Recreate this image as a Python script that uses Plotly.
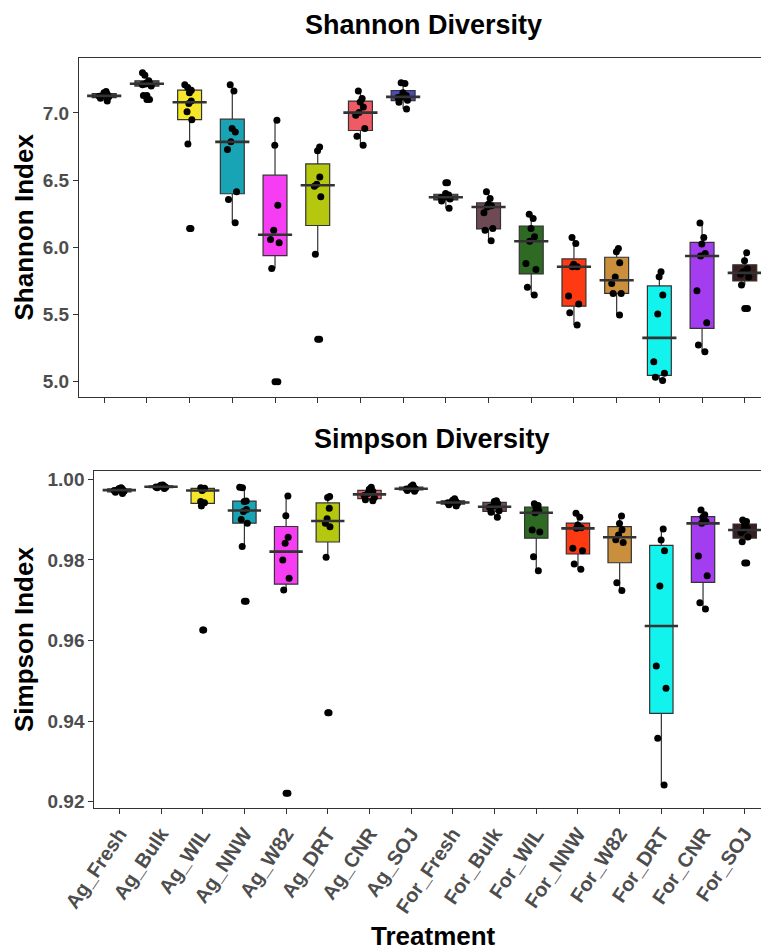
import numpy as np
import plotly.graph_objects as go

# ---------------- data ----------------
treatments = ["Ag_Fresh", "Ag_Bulk", "Ag_WIL", "Ag_NNW", "Ag_W82", "Ag_DRT", "Ag_CNR", "Ag_SOJ",
              "For_Fresh", "For_Bulk", "For_WIL", "For_NNW", "For_W82", "For_DRT", "For_CNR", "For_SOJ"]

box_colors = ["#4D4D4D", "#555555", "#F5E62A", "#18A4B4", "#F73DF3", "#B5C70E", "#F05A64", "#4B4BB0",
              "#4D4D4D", "#6E4A55", "#2F6A25", "#FF3A12", "#C98F3D", "#13F3EE", "#A43CF0", "#3A1F1F"]

shannon = [
    [7.09, 7.11, 7.12, 7.125, 7.13, 7.14, 7.15, 7.16],                       # Ag_Fresh
    [7.10, 7.13, 7.20, 7.21, 7.215, 7.22, 7.225, 7.24, 7.28, 7.30],          # Ag_Bulk
    [6.14, 6.77, 6.95, 7.01, 7.07, 7.09, 7.15, 7.17, 7.19, 7.21],            # Ag_WIL
    [6.183, 6.356, 6.413, 6.728, 6.785, 6.859, 6.884, 7.164, 7.21],          # Ag_NNW
    [5.0, 5.843, 6.034, 6.059, 6.128, 6.314, 6.76, 6.946],                   # Ag_W82
    [5.315, 5.949, 6.376, 6.455, 6.47, 6.524, 6.718, 6.747],                 # Ag_DRT
    [6.76, 6.827, 6.884, 6.983, 7.003, 7.045, 7.082, 7.107, 7.164],          # Ag_CNR
    [7.03, 7.08, 7.095, 7.115, 7.12, 7.13, 7.15, 7.22, 7.225],               # Ag_SOJ
    [6.29, 6.345, 6.36, 6.37, 6.375, 6.39, 6.40, 6.48],                      # For_Fresh
    [6.049, 6.128, 6.14, 6.257, 6.30, 6.31, 6.32, 6.363, 6.413],             # For_Bulk
    [5.645, 5.702, 5.835, 5.88, 6.045, 6.078, 6.14, 6.215, 6.247],           # For_WIL
    [5.422, 5.513, 5.578, 5.637, 5.855, 5.855, 5.875, 6.029, 6.073],         # For_NNW
    [5.496, 5.657, 5.657, 5.731, 5.78, 5.885, 5.967, 5.992],                 # For_W82
    [5.008, 5.033, 5.062, 5.149, 5.503, 5.645, 5.781, 5.818],                # For_DRT
    [5.223, 5.273, 5.439, 5.677, 5.935, 5.954, 6.024, 6.073, 6.182],         # For_CNR
    [5.545, 5.72, 5.78, 5.80, 5.82, 5.84, 5.90, 5.96],                       # For_SOJ
]

simpson = [
    [0.9965, 0.9968, 0.9970, 0.9972, 0.9974, 0.9975, 0.9977, 0.9979],                 # Ag_Fresh
    [0.9977, 0.9979, 0.9980, 0.9981, 0.9982, 0.9983, 0.9985, 0.9986],                 # Ag_Bulk
    [0.9626, 0.9934, 0.9942, 0.9945, 0.9972, 0.9976, 0.9977, 0.9978, 0.9979],         # Ag_WIL
    [0.96975, 0.9833, 0.9891, 0.9900, 0.9920, 0.9925, 0.9945, 0.9946, 0.9979, 0.9980],  # Ag_NNW
    [0.92208, 0.97253, 0.97543, 0.9800, 0.98411, 0.9856, 0.99097, 0.99585],           # Ag_W82
    [0.94209, 0.98064, 0.98824, 0.98907, 0.9902, 0.99279, 0.9955, 0.9957],            # Ag_DRT
    [0.9947, 0.9949, 0.9955, 0.9960, 0.9965, 0.9970, 0.9975, 0.9980],                 # Ag_CNR
    [0.9970, 0.9972, 0.9975, 0.9976, 0.9977, 0.9979, 0.9982, 0.9986],                 # Ag_SOJ
    [0.9934, 0.9937, 0.9940, 0.9942, 0.9943, 0.9945, 0.9948, 0.9952],                 # For_Fresh
    [0.9906, 0.9918, 0.9922, 0.9930, 0.9934, 0.9940, 0.9945, 0.9947],                 # For_Bulk
    [0.9773, 0.9808, 0.9869, 0.9874, 0.9917, 0.9922, 0.9930, 0.9935, 0.9939],         # For_WIL
    [0.97766, 0.97898, 0.98229, 0.98287, 0.98783, 0.9880, 0.98866, 0.9906, 0.99155],  # For_NNW
    [0.9724, 0.9743, 0.98429, 0.9850, 0.9862, 0.9875, 0.9890, 0.9909],                # For_W82
    [0.92414, 0.93573, 0.94813, 0.95367, 0.97352, 0.98229, 0.98494, 0.98766],         # For_DRT
    [0.96782, 0.96939, 0.97609, 0.98097, 0.98907, 0.9895, 0.99056, 0.9912, 0.99238],  # For_CNR
    [0.9792, 0.9845, 0.9857, 0.9868, 0.9874, 0.9880, 0.9887, 0.9895, 0.9899],         # For_SOJ
]

shannon_ticks = [5.0, 5.5, 6.0, 6.5, 7.0]
shannon_ticktext = ["5.0", "5.5", "6.0", "6.5", "7.0"]
simpson_ticks = [0.92, 0.94, 0.96, 0.98, 1.00]
simpson_ticktext = ["0.92", "0.94", "0.96", "0.98", "1.00"]

# ---------------- figure ----------------
W, H = 761, 950
FONT = "Liberation Sans, Arial, Helvetica, sans-serif"
OUTLINE = "#333333"
TICKGRAY = "#4D4D4D"
BOX_HALF = 0.4   # half box width in category units (boxgap 0.2)

fig = go.Figure()
shapes = []

for values, xa, ya in [(shannon, "x", "y"), (simpson, "x2", "y2")]:
    for i, (cat, vals, col) in enumerate(zip(treatments, values, box_colors)):
        fig.add_trace(go.Box(
            x=[cat] * len(vals), y=vals, xaxis=xa, yaxis=ya,
            fillcolor=col, line=dict(color=OUTLINE, width=1.2),
            whiskerwidth=0, boxpoints="outliers", pointpos=0,
            marker=dict(color="black", size=7, line=dict(width=0)),
            showlegend=False, hoverinfo="y",
        ))
        fig.add_trace(go.Box(
            x=[cat] * len(vals), y=vals, xaxis=xa, yaxis=ya,
            fillcolor="rgba(0,0,0,0)", line=dict(color="rgba(0,0,0,0)", width=0),
            whiskerwidth=0, boxpoints="all", jitter=0.55, pointpos=0,
            marker=dict(color="black", size=7, line=dict(width=0)),
            showlegend=False, hoverinfo="y",
        ))
        # thicker median bar (ggplot fatten)
        med = float(np.median(vals))
        shapes.append(dict(type="line", xref=xa, yref=ya,
                           x0=i - BOX_HALF, x1=i + BOX_HALF, y0=med, y1=med,
                           line=dict(color=OUTLINE, width=2.6), layer="above"))

common_x = dict(
    type="category", categoryorder="array", categoryarray=treatments,
    showline=True, linecolor=OUTLINE, linewidth=1, mirror=True,
    ticks="outside", ticklen=5, tickcolor=OUTLINE, tickwidth=1,
    showgrid=False, zeroline=False, automargin=False,
)
common_y = dict(
    showline=True, linecolor=OUTLINE, linewidth=1,
    ticks="outside", ticklen=5, tickcolor=OUTLINE, tickwidth=1,
    showgrid=False, zeroline=False, automargin=False,
    tickfont=dict(family=FONT, size=19, color=TICKGRAY, weight="bold"),
)

fig.update_layout(
    template="none",
    width=W, height=H, autosize=False,
    margin=dict(l=0, r=0, t=0, b=0, pad=0),
    paper_bgcolor="white", plot_bgcolor="white",
    boxmode="overlay", boxgap=0.2,
    showlegend=False,
    shapes=shapes,
    xaxis=dict(common_x, domain=[79 / W, 1.0], range=[-0.59, 15.38],
               showticklabels=False, anchor="y"),
    yaxis=dict(common_y, domain=[1 - 397 / H, 1 - 58.3 / H], range=[4.886, 7.407],
               tickvals=shannon_ticks, ticktext=shannon_ticktext, anchor="x"),
    xaxis2=dict(common_x, domain=[94.3 / W, 1.0], range=[-0.6, 15.39],
                tickangle=-56, anchor="y2",
                tickfont=dict(family=FONT, size=20, color=TICKGRAY, weight="bold")),
    yaxis2=dict(common_y, domain=[1 - 808.3 / H, 1 - 470.7 / H], range=[0.91836, 1.00213],
                tickvals=simpson_ticks, ticktext=simpson_ticktext, anchor="x2"),
)

title_font = dict(family=FONT, size=27, color="black", weight="bold")
axis_font = dict(family=FONT, size=26, color="black", weight="bold")
fig.add_annotation(text="Shannon Diversity", x=424 / W, y=1 - 25 / H, xref="paper", yref="paper",
                   showarrow=False, xanchor="center", yanchor="middle", font=title_font)
fig.add_annotation(text="Simpson Diversity", x=432 / W, y=1 - 439 / H, xref="paper", yref="paper",
                   showarrow=False, xanchor="center", yanchor="middle", font=title_font)
fig.add_annotation(text="Shannon Index", x=24 / W, y=1 - 227.5 / H, xref="paper", yref="paper",
                   showarrow=False, xanchor="center", yanchor="middle", textangle=-90,
                   font=axis_font)
fig.add_annotation(text="Simpson Index", x=24 / W, y=1 - 640 / H, xref="paper", yref="paper",
                   showarrow=False, xanchor="center", yanchor="middle", textangle=-90,
                   font=axis_font)
fig.add_annotation(text="Treatment", x=433 / W, y=1 - 936 / H, xref="paper", yref="paper",
                   showarrow=False, xanchor="center", yanchor="middle", font=axis_font)

fig.write_html(
    "out.html",
    config={"displayModeBar": False},
    post_script="document.body.style.margin='0';document.body.style.padding='0';"
                "document.body.style.overflow='hidden';"
                "document.documentElement.style.overflow='hidden';",
)
